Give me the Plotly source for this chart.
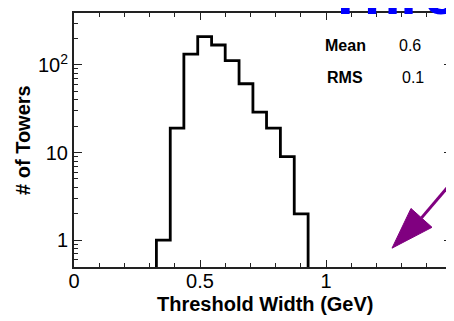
import plotly.graph_objects as go

# ---- data ----
bin_edges = [0.327, 0.382, 0.436, 0.491, 0.546, 0.600, 0.655, 0.710, 0.764, 0.819, 0.874, 0.929]
counts = [1, 19, 133, 211, 169, 112, 61, 29, 19, 9, 2]
x_tickvals = [0, 0.5, 1, 1.5]
x_ticktext = ["0", "0.5", "1", "1.5"]
y_tickvals = [1, 10, 100]
y_ticktext = ["1", "10", "10<sup>2</sup>"]
stat_names = ["Mean", "RMS"]
stat_values = ["0.6", "0.1"]

floor = 0.1  # below visible range, drawn off-axis
xs = [bin_edges[0]] + bin_edges
ys = [floor] + counts + [floor]

x_minor = [round(0.1 * i, 2) for i in range(16)]
y_minor = [m * 10 ** e for e in range(-1, 3) for m in range(2, 10)]

# page body has an 8px margin; compensate so the plot area sits where the reference has it
OFF = 8
L, T, PW, PH = 74 - OFF, 11 - OFF, 378, 256

fig = go.Figure()
fig.add_trace(go.Scatter(x=xs, y=ys, mode="lines", line=dict(color="black", width=2.8, shape="hv"),
                         hoverinfo="skip", showlegend=False))

yr = [-0.306, 2.593]
tickfont = dict(family="Liberation Sans", size=20, color="black")
common = dict(showgrid=False, zeroline=False, ticks="inside", tickwidth=1.2, tickcolor="#222",
              linecolor="#222", linewidth=2, showline=True, mirror="allticks")

fig.update_layout(
    width=454, height=321,
    margin=dict(l=L, r=454 - L - PW, t=T, b=321 - T - PH),
    paper_bgcolor="white", plot_bgcolor="white",
    xaxis=dict(common, range=[0, 1.5], ticklen=7, tickmode="array", tickvals=x_tickvals,
               ticktext=x_ticktext, tickfont=tickfont, ticklabelstandoff=-5,
               minor=dict(tickvals=x_minor, ticks="inside", ticklen=4, tickwidth=1.2, tickcolor="#222")),
    yaxis=dict(common, type="log", range=yr, ticklen=8, tickmode="array", tickvals=y_tickvals,
               ticktext=y_ticktext, tickfont=tickfont,
               minor=dict(tickvals=y_minor, ticks="inside", ticklen=4, tickwidth=1.2, tickcolor="#222")),
)

ann = []
ann.append(dict(text="<b>Threshold Width (GeV)</b>", xref="paper", yref="paper", x=0.5066, y=-0.1445,
                xanchor="center", yanchor="middle", showarrow=False,
                font=dict(family="Liberation Sans", size=20, color="black")))
ann.append(dict(text="<b># of Towers</b>", xref="paper", yref="paper", x=-0.135, y=0.5,
                xanchor="center", yanchor="middle", textangle=-90, showarrow=False,
                font=dict(family="Liberation Sans", size=20, color="black")))
for i, (n, v) in enumerate(zip(stat_names, stat_values)):
    yp = [0.873, 0.748][i]
    ann.append(dict(text="<b>%s</b>" % n, xref="paper", yref="paper", x=(323 + 2 * i - 74) / 378, y=yp,
                    xanchor="left", yanchor="middle", showarrow=False,
                    font=dict(family="Liberation Sans Narrow, Liberation Sans", size=16, color="black")))
    ann.append(dict(text=v, xref="paper", yref="paper", x=(397 + 3 * i - 74) / 378, y=yp,
                    xanchor="left", yanchor="middle", showarrow=False,
                    font=dict(family="Liberation Sans", size=16, color="black")))
ann.append(dict(text="<b>Thre</b>", xref="paper", yref="paper", x=(325 - 74) / 378, y=(267 - 12) / 256,
                xanchor="left", yanchor="bottom", showarrow=False, yshift=-15,
                font=dict(family="Liberation Sans", size=60, color="#0000ff")))
fig.update_layout(annotations=ann)

# purple arrow (decoration)
def P(px, py):
    return ((px - 74) / 378, (267 - py) / 256)

tip = P(392, 248); c1 = P(411, 208); c2 = P(432, 227); bm = P(421.5, 217.5); end = P(470, 160)
fig.add_shape(type="line", xref="paper", yref="paper", x0=bm[0], y0=bm[1], x1=end[0], y1=end[1],
              line=dict(color="#800080", width=3))
fig.add_shape(type="path", xref="paper", yref="paper",
              path="M %f %f L %f %f L %f %f Z" % (tip[0], tip[1], c1[0], c1[1], c2[0], c2[1]),
              fillcolor="#800080", line=dict(color="#800080", width=1))

fig.write_html("out.html")
